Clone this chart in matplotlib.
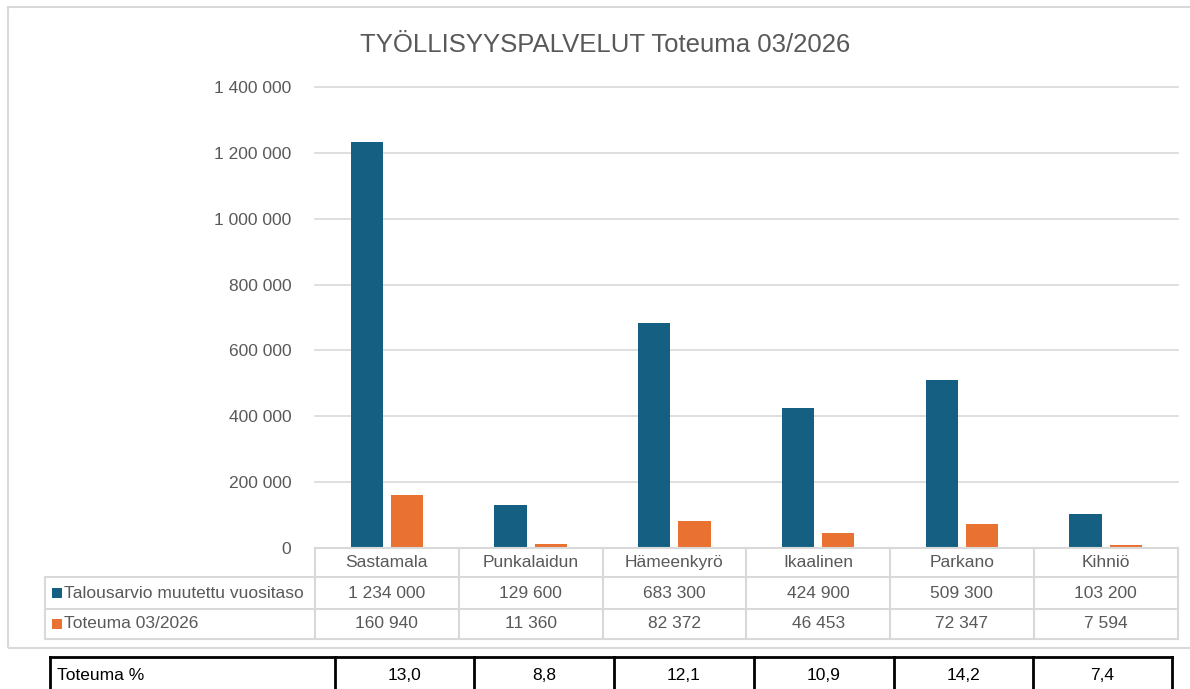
import matplotlib
matplotlib.use("Agg")
import matplotlib.pyplot as plt
from matplotlib.lines import Line2D
from matplotlib.patches import Rectangle

plt.rcParams['font.family'] = ['Liberation Sans', 'DejaVu Sans']

title = "TYÖLLISYYSPALVELUT Toteuma 03/2026"
categories = ["Sastamala", "Punkalaidun", "Hämeenkyrö", "Ikaalinen", "Parkano", "Kihniö"]
series_names = ["Talousarvio muutettu vuositaso", "Toteuma 03/2026"]
budget = [1234000, 129600, 683300, 424900, 509300, 103200]
actual = [160940, 11360, 82372, 46453, 72347, 7594]
pct_label = "Toteuma %"
pct = [13.0, 8.8, 12.1, 10.9, 14.2, 7.4]
yticks = [0, 200000, 400000, 600000, 800000, 1000000, 1200000, 1400000]

C_BLUE = "#156082"
C_ORANGE = "#E97132"
GRID = "#d9d9d9"
TXT = "#595959"
FS = 12.5

W, H = 1190, 689
fig = plt.figure(figsize=(W / 100, H / 100), dpi=100)
fig.patch.set_facecolor("white")

def fx(x):
    return x / W

def fy(y):
    return 1 - y / H

def fmt(v):
    return f"{v:,}".replace(",", " ")

# chart outline
fig.add_artist(Rectangle((fx(8), fy(648)), fx(1200) - fx(8), fy(7) - fy(648),
                         transform=fig.transFigure, fill=False, edgecolor=GRID, lw=1.5))

fig.text(fx(605), fy(45), title, ha="center", va="center", fontsize=18.5, color=TXT)

# plot area
PL, PR, PT, PB = 315, 1177.5, 87, 548
ax = fig.add_axes([fx(PL), fy(PB), fx(PR) - fx(PL), fy(PT) - fy(PB)])
n = len(categories)
xs = [i + 0.5 for i in range(n)]
bw = 0.225
off = 0.14
ax.bar([x - off for x in xs], budget, width=bw, color=C_BLUE, zorder=3)
ax.bar([x + off for x in xs], actual, width=bw, color=C_ORANGE, zorder=3)
ax.set_xlim(0, n)
ax.set_ylim(0, 1400000)
ax.set_yticks(yticks)
ax.set_yticklabels([fmt(v) for v in yticks], fontsize=FS, color=TXT)
ax.tick_params(axis="y", length=0, pad=17)
ax.set_xticks([])
for s in ax.spines.values():
    s.set_visible(False)
ax.yaxis.grid(True, color=GRID, lw=1.2, zorder=0)
for gl in ax.get_ygridlines():
    gl.set_clip_on(False)
ax.set_facecolor("none")

# data table
colw = (PR - PL) / n
rows_y = [548, 577, 609, 639]
LEFT = 45
def hline(x0, x1, y, color=GRID, lw=1.5):
    fig.add_artist(Line2D([fx(x0), fx(x1)], [fy(y), fy(y)], transform=fig.transFigure, color=color, lw=lw))
def vline(x, y0, y1, color=GRID, lw=1.5):
    fig.add_artist(Line2D([fx(x), fx(x)], [fy(y0), fy(y1)], transform=fig.transFigure, color=color, lw=lw))

hline(PL, PR, rows_y[0])
for y in rows_y[1:]:
    hline(LEFT, PR, y)
for k in range(n + 1):
    vline(PL + k * colw, rows_y[0], rows_y[3])
vline(LEFT, rows_y[1], rows_y[3])

for i, c in enumerate(categories):
    cx = PL + (i + 0.5) * colw
    fig.text(fx(cx), fy((rows_y[0] + rows_y[1]) / 2), c, ha="center", va="center", fontsize=FS, color=TXT)
    fig.text(fx(cx), fy((rows_y[1] + rows_y[2]) / 2), fmt(budget[i]), ha="center", va="center", fontsize=FS, color=TXT)
    fig.text(fx(cx), fy((rows_y[2] + rows_y[3]) / 2), fmt(actual[i]), ha="center", va="center", fontsize=FS, color=TXT)

for r, (name, col) in enumerate(zip(series_names, [C_BLUE, C_ORANGE])):
    yc = (rows_y[r + 1] + rows_y[r + 2]) / 2
    fig.add_artist(Rectangle((fx(52), fy(yc + 5)), fx(10), fy(0) - fy(10), transform=fig.transFigure,
                             facecolor=col, edgecolor="none"))
    fig.text(fx(64), fy(yc), name, ha="left", va="center", fontsize=FS, color=TXT)

# bottom table
bx = [50, 335, 474, 614, 754, 894, 1033, 1172]
BT = 657
hline(bx[0], bx[-1], BT, color="black", lw=2)
hline(bx[0], bx[-1], 700, color="black", lw=2)
for x in bx:
    vline(x, BT, 700, color="black", lw=2)
fig.text(fx(57), fy(676), pct_label, ha="left", va="center", fontsize=FS, color="black")
for i, v in enumerate(pct):
    cx = (bx[i + 1] + bx[i + 2]) / 2
    fig.text(fx(cx), fy(676), f"{v:.1f}".replace(".", ","), ha="center", va="center", fontsize=FS, color="black")

fig.savefig("out.png", dpi=100)
